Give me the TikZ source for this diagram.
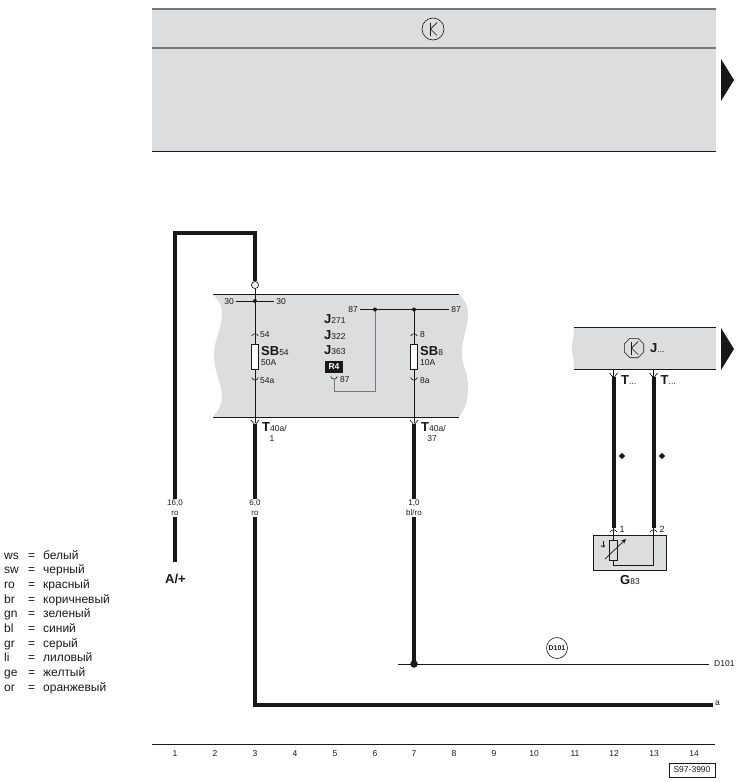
\documentclass[tikz,border=0pt]{standalone}
\usepackage{fontspec}
\setmainfont{Liberation Sans}
\usetikzlibrary{calc,shapes.geometric,arrows.meta}
\definecolor{bandgray}{HTML}{DCDDDF}
\definecolor{ink}{HTML}{1A1718}
\definecolor{edgegray}{HTML}{77787B}
\newcommand{\biglab}[2]{{\fontsize{13}{14}\selectfont\bfseries #1}{\fontsize{8.5}{9}\selectfont #2}}
\tikzset{
  x=1pt,y=-1pt,
  band/.style={fill=bandgray,draw=none},
  hair/.style={draw=ink,line width=0.75pt},
  rail/.style={draw=ink,line width=0.9pt},
  heavy/.style={draw=ink,line width=4pt},
  wirelabel/.style={fill=white,inner sep=1pt,font=\fontsize{8}{10}\selectfont,align=center,text=ink},
  lab/.style={inner sep=0pt,font=\fontsize{8.5}{10}\selectfont,text=ink},
  labl/.style={lab,anchor=west},
  legend/.style={inner sep=0pt,anchor=base west,font=\fontsize{12}{13}\selectfont,text=ink},
  num/.style={inner sep=0pt,font=\fontsize{8.5}{10}\selectfont,text=ink},
  fuse/.style={draw=ink,line width=0.7pt,fill=white,minimum width=7pt,minimum height=25pt,inner sep=0pt},
  dotn/.style={circle,fill=ink,inner sep=0pt,minimum size=#1},
  go/.style={fill=ink,draw=none},
  big label/.style={inner sep=0pt,anchor=base west,text=ink},
}
\newcommand{\forkup}[1]{\draw[draw=ink,line width=0.6pt] ($(#1)+(-3.3,2)$) .. controls ($(#1)+(-2,-1)$) and ($(#1)+(2,-1)$) .. ($(#1)+(3.3,2)$);}
\newcommand{\forkdn}[1]{\draw[draw=ink,line width=0.6pt] ($(#1)+(-3.3,-2.5)$) .. controls ($(#1)+(-2,1)$) and ($(#1)+(2,1)$) .. ($(#1)+(3.3,-2.5)$);}
\newcommand{\forkT}[1]{\draw[draw=ink,line width=0.7pt] ($(#1)+(-4,-4)$) -- ($(#1)+(0,1)$) -- ($(#1)+(4,-4)$);}
\newcommand{\ksym}[1]{%
  \draw[draw=ink,line width=1.1pt] ($(#1)+(-2.5,-6.5)$) -- ($(#1)+(-2.5,6.5)$);
  \draw[draw=ink,line width=0.7pt] ($(#1)+(4,-6.5)$) -- ($(#1)+(-2.5,0)$) -- ($(#1)+(4,6.5)$);}
\begin{document}
\begin{tikzpicture}
\useasboundingbox (0,0) rectangle (741,782);
% top band
\fill[band] (152,9) rectangle (716,151);
\draw[draw=edgegray,line width=1.1pt] (152,9) -- (716,9);
\draw[draw=edgegray,line width=1.1pt] (152,48) -- (716,48);
\draw[rail] (152,151) -- (716,151);
\node[circle,draw=ink,line width=0.6pt,minimum size=22pt,inner sep=0pt] (ktop) at (433,29) {};
\ksym{ktop}
\fill[go] (721,59) -- (734,80) -- (721,101) -- cycle;

% central band
\fill[band] (213,294) .. controls (219,301) and (222,306) .. (222,313)
  .. controls (222,328) and (214,340) .. (214,355)
  .. controls (214,372) and (222,385) .. (222,396)
  .. controls (222,405) and (218,411) .. (213,417)
  -- (459,417) .. controls (464,411) and (468,402) .. (468,387)
  .. controls (468,372) and (462,366) .. (462,353)
  .. controls (462,338) and (468,328) .. (468,313)
  .. controls (468,305) and (464,299) .. (459,294) -- cycle;
\draw[rail] (213,294) -- (459,294);
\draw[rail] (213,417) -- (459,417);

% right band
\fill[band] (573.5,327) -- (716,327) -- (716,369) -- (573.5,369)
  .. controls (575,362) and (572,355) .. (571.5,348) .. controls (572,340) and (575,334) .. (573.5,327) -- cycle;
\draw[rail] (573.5,327) -- (716,327);
\draw[rail] (573.5,369) -- (716,369);
\fill[go] (721,328) -- (734,349) -- (721,370) -- cycle;
\node[regular polygon,regular polygon sides=8,draw=ink,line width=0.6pt,minimum size=21pt,inner sep=0pt] (kj) at (634,348) {};
\ksym{kj}
\node[big label] (jdots) at (650,352.5) {\biglab{J}{...}};

% wire 1
\coordinate (a1) at (175,562);
\coordinate (a2) at (175,233);
\coordinate (a3) at (255,233);
\node[circle,draw=ink,fill=white,line width=0.7pt,minimum size=7pt,inner sep=0pt] (term) at (255,285) {};
\draw[heavy,line join=miter] (a1) -- (a2) -- (a3) -- (term.north);
\node[inner sep=0pt,anchor=base west,font=\fontsize{13}{14}\selectfont\bfseries,text=ink] (aplus) at (165,583) {A/+};

% fuse column 3
\coordinate (b30) at (255,301);
\coordinate (b418) at (255,423);
\draw[hair] (term.south) -- (b418);
\node[lab] (l30a) at (229,301.5) {30};
\node[lab] (l30b) at (281,301.5) {30};
\draw[hair] ($(l30a.east)+(2,0)$) -- ($(l30b.west)+(-2,0)$);
\node[dotn=4pt] at (b30) {};
\node[fuse] (sb54) at (255,356.5) {};
\coordinate (f54) at (255,334);\forkup{f54}
\coordinate (f54a) at (255,380);\forkdn{f54a}
\node[labl] at (260,334.5) {54};
\node[labl] at (260,380.5) {54a};
\node[big label] at (261,355) {\biglab{SB}{54}};
\node[labl] at (261,362.5) {50A};
\coordinate (t1) at (255,424);\forkT{t1}
\node[big label] at (262,431.5) {\biglab{T}{40a/}};
\node[lab] at (272,439) {1};

% relay labels
\node[big label] at (324,323.5) {\biglab{J}{271}};
\node[big label] at (324,339) {\biglab{J}{322}};
\node[big label] at (324,354.5) {\biglab{J}{363}};
\node[fill=ink,text=white,inner sep=0pt,minimum width=18pt,minimum height=12pt,font=\fontsize{8.5}{10}\selectfont\bfseries] (r4) at (334,366.5) {R4};
\coordinate (f87) at (334,379);\forkdn{f87}
\node[labl] at (340,379.5) {87};
% 87 rail
\node[lab] (l87a) at (353,309.5) {87};
\node[lab] (l87b) at (456,309.5) {87};
\coordinate (j1) at (375,309.5);
\coordinate (j2) at (414,309.5);
\draw[hair] ($(l87a.east)+(2,0)$) -- ($(l87b.west)+(-2,0)$);
\coordinate (c1) at (334,391);
\coordinate (c2) at (375,391);
\draw[draw=edgegray,line width=1pt] (f87) -- (c1) -- (c2) -- (j1);
\node[dotn=4pt] at (j1) {};
\node[dotn=4pt] at (j2) {};

% fuse column 7
\coordinate (b7) at (414,423);
\draw[hair] (j2) -- (b7);
\node[fuse] (sb8) at (414,356.5) {};
\coordinate (f8) at (414,334);\forkup{f8}
\coordinate (f8a) at (414,380);\forkdn{f8a}
\node[labl] at (420,334.5) {8};
\node[labl] at (420,380.5) {8a};
\node[big label] at (420,355) {\biglab{SB}{8}};
\node[labl] at (420,362.5) {10A};
\coordinate (t37) at (414,424);\forkT{t37}
\node[big label] at (421,431.5) {\biglab{T}{40a/}};
\node[lab] at (432,439) {37};

% heavy wires
\coordinate (w3a) at (255,424);
\coordinate (w3b) at (255,705);
\coordinate (w3c) at (713,705);
\draw[heavy,line join=miter] (w3a) -- (w3b) -- (w3c);
\node[inner sep=0pt,anchor=west,font=\fontsize{8.5}{10}\selectfont,text=ink] at (715,703.5) {a};
\coordinate (d1) at (398,664);
\coordinate (d2) at (709,664);
\coordinate (d7) at (414,664);
\coordinate (w7a) at (414,424);
\draw[heavy] (w7a) -- (d7);
\draw[rail] (d1) -- (d2);
\node[dotn=7.5pt] at (d7) {};
\node[inner sep=0pt,anchor=west,font=\fontsize{8.5}{10}\selectfont,text=ink] at (714,664) {D101};
\node[circle,draw=ink,line width=0.6pt,minimum size=21pt,inner sep=0pt,font=\fontsize{7}{8}\selectfont\bfseries,text=ink] at (557,648) {D101};

\node[wirelabel] at (175,508) {16,0\\ro};
\node[wirelabel] at (255,508) {6,0\\ro};
\node[wirelabel] at (414,508) {1,0\\bl/ro};

% right wires
\coordinate (t12) at (613.5,377);
\coordinate (t13) at (653.5,377);
\draw[hair] (613.5,369) -- (t12);
\draw[hair] (653.5,369) -- (t13);
\forkT{t12}\forkT{t13}
\node[big label] at (621,384.5) {\biglab{T}{...}};
\node[big label] at (660.5,384.5) {\biglab{T}{...}};
\coordinate (g1) at (613.5,528);
\coordinate (g2) at (653.5,528);
\draw[heavy] (t12) -- (g1);
\draw[heavy] (t13) -- (g2);
\node[diamond,fill=ink,inner sep=0pt,minimum size=6.5pt] at (622,456) {};
\node[diamond,fill=ink,inner sep=0pt,minimum size=6.5pt] at (662,456) {};

% G83
\node[draw=ink,fill=bandgray,line width=0.9pt,minimum width=73pt,minimum height=35pt,inner sep=0pt] (g83) at (629.5,552.5) {};
\coordinate (gb) at (613.5,565);
\coordinate (gc) at (653.5,565);
\draw[hair] (g1) -- (gb) -- (gc) -- (g2);
\node[draw=ink,fill=bandgray,line width=0.7pt,minimum width=7.5pt,minimum height=20pt,inner sep=0pt] (res) at (613.5,550) {};
\coordinate (s1) at (605,559);
\coordinate (s2) at (626,539);
\draw[draw=ink,line width=0.7pt,-{Stealth[length=5pt,width=4.5pt]}] (s1) -- (s2);
\draw[draw=ink,line width=0.6pt] (601,545) arc[start angle=180,end angle=0,radius=2];
\draw[draw=ink,line width=0.6pt] (603,541) -- (603,547);
\coordinate (f1) at (613.5,530);\forkup{f1}
\coordinate (f2) at (653.5,530);\forkup{f2}
\node[lab,font=\fontsize{9}{10}\selectfont] at (622,529) {1};
\node[lab,font=\fontsize{9}{10}\selectfont] at (662,529) {2};
\node[big label] at (620,584.5) {\biglab{G}{83}};

% legend
\foreach \k/\v/\y in {ws/белый/559,sw/черный/573.5,ro/красный/588,br/коричневый/603,gn/зеленый/617,bl/синий/632,gr/серый/647,li/лиловый/661,ge/желтый/676,or/оранжевый/691}{
  \node[legend] at (4,\y) {\k};
  \node[legend] at (28,\y) {=};
  \node[legend] at (43,\y) {\v};
}

% scale
\coordinate (r1) at (152,744);
\coordinate (r2) at (715,744);
\draw[rail] (r1) -- (r2);
\foreach \n/\x in {1/175,2/215,3/255,4/295,5/335,6/375,7/414,8/454,9/494,10/534,11/575,12/614,13/654,14/694}{
  \node[num] at (\x,754) {\n};
}
\node[draw=ink,line width=0.7pt,inner sep=0pt,minimum width=46pt,minimum height=14pt,font=\fontsize{8.5}{10}\selectfont,text=ink] (code) at (692,770) {S97-3990};
\end{tikzpicture}
\end{document}
